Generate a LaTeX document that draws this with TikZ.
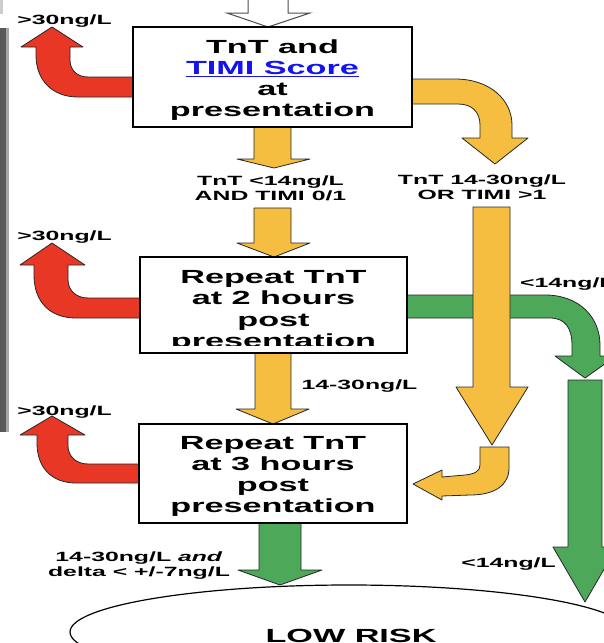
\documentclass[tikz,border=0pt]{standalone}
\usepackage{fontspec}
\newfontfamily\wf[FakeStretch=1.8]{Liberation Sans}
\newfontfamily\lf[FakeStretch=1.85]{Liberation Sans}
\usetikzlibrary{shapes.geometric}
\definecolor{arred}{RGB}{233,55,38}
\definecolor{aryel}{RGB}{245,190,64}
\definecolor{argrn}{RGB}{78,168,90}
\definecolor{lnkblue}{RGB}{20,20,240}
\tikzset{
  boxfont/.style={font=\wf\bfseries\fontsize{19}{21.3}\selectfont},
  labfont/.style={font=\lf\bfseries\fontsize{13.4}{15}\selectfont},
  stepbox/.style={draw=black, line width=1.1pt, fill=white, inner sep=0pt},
  txt/.style={inner sep=0pt, align=center, anchor=base},
  blockarrow/.style={draw=black!85, line width=0.8pt, line join=round},
  redarrow/.style={blockarrow, fill=arred},
  yelarrow/.style={blockarrow, fill=aryel},
  grnarrow/.style={blockarrow, fill=argrn},
  whitearrow/.style={draw=black!70, line width=1pt, fill=white},
}
\begin{document}
\begin{tikzpicture}[x=1pt,y=-1pt]
\useasboundingbox (0,0) rectangle (603,643);
% left gray bar
\fill[black!65] (0,28) rectangle (6,432);
\fill[black!35] (6,28) rectangle (9,432);
\fill[black!20] (0,0) rectangle (3,14);
% top white arrow
\draw[whitearrow] (248,-3) -- (248,13) -- (227,13) -- (268,27) -- (310,13) -- (288,13) -- (288,-3);
% ellipse
\node[ellipse, draw=black, line width=1.2pt, minimum width=558pt, minimum height=94pt, inner sep=0pt] (low) at (349,632) {};
\node[txt, boxfont] (lowt) at (351,642.5) {LOW RISK};
% red arrows
\draw[redarrow] (134,77) -- (88,77) .. controls (77,77) and (70,70) .. (70,60) -- (70,47) -- (83,47) -- (52,27) -- (21,47) -- (36,47) -- (36,55) .. controls (36,80) and (52,97) .. (78,97) -- (134,97) -- cycle;
\draw[redarrow] (141,298) -- (88,298) .. controls (76,298) and (68,290) .. (68,280) -- (68,265) -- (85,265) -- (52,243) -- (20,265) -- (34,265) -- (34,275) .. controls (34,302) and (50,318) .. (76,318) -- (141,318) -- cycle;
\draw[redarrow] (140,464) -- (88,464) .. controls (76,464) and (68,456) .. (68,446) -- (68,435) -- (85,435) -- (52,416) -- (20,435) -- (37,435) -- (37,443) .. controls (37,468) and (52,483) .. (76,483) -- (140,483) -- cycle;
% yellow arrows in the middle column
\draw[yelarrow] (254,126) -- (254,159) -- (237,159) -- (274,168) -- (310,159) -- (291,159) -- (291,126) -- cycle;
\draw[yelarrow] (254,208) -- (254,243) -- (237,243) -- (274,257) -- (310,243) -- (291,243) -- (291,208) -- cycle;
\draw[yelarrow] (255,352) -- (255,409) -- (236,409) -- (273,424) -- (309,409) -- (291,409) -- (291,352) -- cycle;
% green arrow to low risk
\draw[grnarrow] (259,522) -- (259,570) -- (238,570) -- (280,585) -- (322,570) -- (301,570) -- (301,522) -- cycle;
% yellow bent arrow from box 1
\draw[yelarrow] (411,79) -- (455,79) .. controls (490,79) and (512,100) .. (512,125) -- (512,138) -- (528,138) -- (495,164) -- (462,138) -- (480,138) -- (480,125) .. controls (480,112) and (472,104) .. (458,104) -- (411,104) -- cycle;
% green bent arrow from box 2
\draw[grnarrow] (406,295) -- (545,295) .. controls (580,295) and (600,318) .. (600,345) -- (600,356) -- (616,356) -- (585,378) -- (555,356) -- (572,356) -- (572,345) .. controls (572,328) and (565,318) .. (550,318) -- (406,318) -- cycle;
% long yellow arrow
\draw[yelarrow] (473,207) -- (473,387) -- (456,387) -- (492,445) -- (528,387) -- (510,387) -- (510,207) -- cycle;
% small yellow bent arrow into box 3
\draw[yelarrow] (480,447) -- (509,447) -- (509,468) .. controls (509,485) and (495,495) .. (470,495) -- (442,496) -- (442,500) -- (413,484) -- (442,470) -- (442,477) -- (465,475) .. controls (475,474) and (480,471) .. (480,465) -- cycle;
% long green arrow
\draw[grnarrow] (568,380) -- (568,547) -- (553,547) -- (585,602) -- (617,547) -- (602,547) -- (602,380) -- cycle;
% boxes
\node[stepbox, minimum width=279pt, minimum height=100pt] (b1) at (272.5,77) {};
\node[txt, boxfont] (t1) at (272.5,116.9) {TnT and\\\textcolor{lnkblue}{\underline{TIMI Score}}\\at\\presentation};
\node[stepbox, minimum width=267pt, minimum height=96pt] (b2) at (273.5,305) {};
\begin{scope}
\clip (141,258) rectangle (406,345.5);
\node[txt, boxfont] (t2) at (273.5,347.5) {Repeat TnT\\at 2 hours\\post\\presentation};
\end{scope}
\node[stepbox, minimum width=268pt, minimum height=99pt] (b3) at (273,473.5) {};
\node[txt, boxfont] (t3) at (273,512.9) {Repeat TnT\\at 3 hours\\post\\presentation};
% labels
\node[txt, labfont] (l1) at (64.5,24) {>30ng/L};
\node[txt, labfont] (l2) at (64.5,240) {>30ng/L};
\node[txt, labfont] (l3) at (64.5,415) {>30ng/L};
\node[txt, labfont] (l4) at (270.5,200) {TnT <14ng/L\\AND TIMI 0/1};
\node[txt, labfont] (l5) at (482,199) {TnT 14-30ng/L\\OR TIMI >1};
\node[txt, labfont] (l6) at (359.5,389) {14-30ng/L};
\node[txt, labfont, anchor=base west] (l7) at (520,287) {<14ng/L};
\node[txt, labfont] (l8) at (508.5,567) {<14ng/L};
\node[txt, labfont] (l9) at (139,576) {14-30ng/L \textit{and}\\delta < +/-7ng/L};
\end{tikzpicture}
\end{document}
